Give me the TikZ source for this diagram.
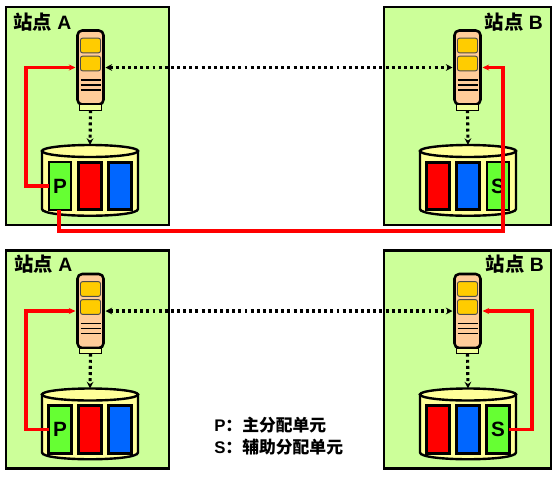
\documentclass[tikz,border=0pt]{standalone}
\usepackage{fontspec}
\setmainfont{Liberation Sans}
\newfontfamily\cjk{Noto Sans CJK SC}
\usetikzlibrary{arrows.meta}
\definecolor{panelgreen}{HTML}{CCFF99}
\definecolor{ctrlfill}{HTML}{FFCC99}
\definecolor{cacheyellow}{HTML}{FFCC00}
\definecolor{cylfill}{HTML}{FFFF99}
\definecolor{unitgreen}{HTML}{66FF33}
\definecolor{unitblue}{HTML}{0066FF}
\definecolor{unitred}{HTML}{FF0000}
\tikzset{
  x=0.75pt,y=-0.75pt,
  panel/.style={draw=black,line width=1.9pt,fill=panelgreen,minimum width=#1*0.75pt,minimum height=163.5pt,inner sep=0pt,outer sep=0pt},
  ctrl/.style={draw=black,line width=1.9pt,fill=ctrlfill,rounded corners=3.5pt,minimum width=19.5pt,minimum height=55.5pt,inner sep=0pt,outer sep=0pt},
  ctrlfoot/.style={draw=black,line width=0.9pt,fill=cylfill!70!panelgreen,minimum width=16pt,minimum height=4pt,inner sep=0pt,outer sep=0pt},
  cache/.style={draw=black!70,line width=0.7pt,fill=cacheyellow,rounded corners=1.5pt,minimum width=15pt,minimum height=11pt,inner sep=0pt,outer sep=0pt},
  unit/.style={draw=black,line width=2.1pt,minimum width=17pt,minimum height=35.5pt,inner sep=0pt,outer sep=0pt},
  unitthin/.style={line width=1.3pt},
  unitletter/.style={inner sep=0pt,font=\bfseries\fontsize{15.5}{15.5}\selectfont},
  cylshape/.style={draw=black,line width=1.8pt,fill=cylfill},
  redlink/.style={draw=red,line width=2.35pt,-{Stealth[length=5pt,width=4.5pt]}},
  dotlink/.style={draw=black,line width=2.35pt,dash pattern=on 2.2pt off 2.4pt,{Stealth[length=5pt,width=5pt]}-{Stealth[length=5pt,width=5pt]}},
  dotdown/.style={draw=black,line width=2.35pt,dash pattern=on 2.2pt off 2.4pt,-{Stealth[length=5pt,width=5pt]}},
  sitelabel/.style={inner sep=0pt,anchor=west,font=\bfseries\fontsize{14.5}{15}\selectfont},
  legend/.style={inner sep=0pt,anchor=west,font=\bfseries\fontsize{12.6}{14}\selectfont},
}
% #1 id, #2 centre x of controller, #3 centre x of cylinder, #4 y offset, #5-#7 unit styles
\newcommand{\siteparts}[7]{%
  \node[ctrl] (ctrl#1) at (#2,67.5+#4) {};
  \node[cache] (cacheU#1) at (#2,45.5+#4) {};
  \node[cache] (cacheL#1) at (#2,63.5+#4) {};
  \draw[line width=1.1pt] (#2-10,80+#4) -- (#2+10,80+#4) (#2-10,85+#4) -- (#2+10,85+#4) (#2-10,90+#4) -- (#2+10,90+#4);
  \node[ctrlfoot] (foot#1) at (#2,107.5+#4) {};
  \path[cylshape] (#3-48,151+#4) -- (#3-48,209+#4) .. controls (#3-48,218+#4) and (#3+48,218+#4) .. (#3+48,209+#4) -- (#3+48,151+#4) -- cycle;
  \draw[cylshape] (#3,151+#4) ellipse [x radius=48,y radius=6];
  \coordinate (cyl#1) at (#3,145+#4);
  \node[unit,#5] (u#1a) at (#3-30,186+#4) {};
  \node[unit,#6] (u#1b) at (#3,186+#4) {};
  \node[unit,#7] (u#1c) at (#3+30,186+#4) {};
}
\begin{document}
\begin{tikzpicture}
\useasboundingbox (0,0) rectangle (558,476);
% panels
\node[panel=163] (pA1) at (87.5,116) {};
\node[panel=167] (pB1) at (467.5,116) {};
\node[panel=163] (pA2) at (87.5,359.5) {};
\node[panel=167] (pB2) at (467.5,359.5) {};
\node[sitelabel] (tA1) at (13,22.5) {{\cjk\bfseries 站点} A};
\node[sitelabel] (tB1) at (484.5,22.5) {{\cjk\bfseries 站点} B};
\node[sitelabel] (tA2) at (14,264) {{\cjk\bfseries 站点} A};
\node[sitelabel] (tB2) at (485.5,264) {{\cjk\bfseries 站点} B};
% sites
\siteparts{A1}{90.5}{90}{0}{fill=unitgreen,unitthin}{fill=unitred}{fill=unitblue}
\siteparts{B1}{467.5}{468}{0}{fill=unitred}{fill=unitblue}{fill=unitgreen,unitthin}
\siteparts{A2}{90.5}{90}{243.5}{fill=unitgreen}{fill=unitred}{fill=unitblue}
\siteparts{B2}{467.5}{468}{243.5}{fill=unitred}{fill=unitblue}{fill=unitgreen}
\node[unitletter] (lA1) at (uA1a) {P};
\node[unitletter] (lB1) at (uB1c) {S};
\node[unitletter] (lA2) at (uA2a) {P};
\node[unitletter] (lB2) at (uB2c) {S};
% route corners
\coordinate (rA1) at (26,186);
\coordinate (rA2) at (26,429.5);
\coordinate (rB2) at (532,429.5);
\coordinate (rP) at (59,231);
\coordinate (rS) at (503,231);
% dotted links
\draw[dotlink,shorten <=1.5pt,shorten >=1.5pt] (ctrlA1.east) -- (ctrlB1.west);
\draw[dotlink,shorten <=1.5pt,shorten >=1.5pt] (ctrlA2.east) -- (ctrlB2.west);
\foreach \s in {A1,B1,A2,B2}{\draw[dotdown] (foot\s.south) -- (cyl\s);}
% red links
\draw[redlink,shorten >=1.5pt] (uA1a.west) -- (rA1) |- (ctrlA1.west);
\draw[redlink,shorten >=1.5pt] (uA2a.west) -- (rA2) |- (ctrlA2.west);
\draw[redlink,shorten >=1.5pt] (uB2c.east) -- (rB2) |- (ctrlB2.east);
\draw[redlink,shorten >=1.5pt] (uA1a.south -| rP) -- (rP) -- (rS) |- (ctrlB1.east);
% legend
\node[legend] (lp) at (214,425) {P{\cjk\bfseries ：主分配单元}};
\node[legend] (ls) at (214,447) {S{\cjk\bfseries ：辅助分配单元}};
\end{tikzpicture}
\end{document}
